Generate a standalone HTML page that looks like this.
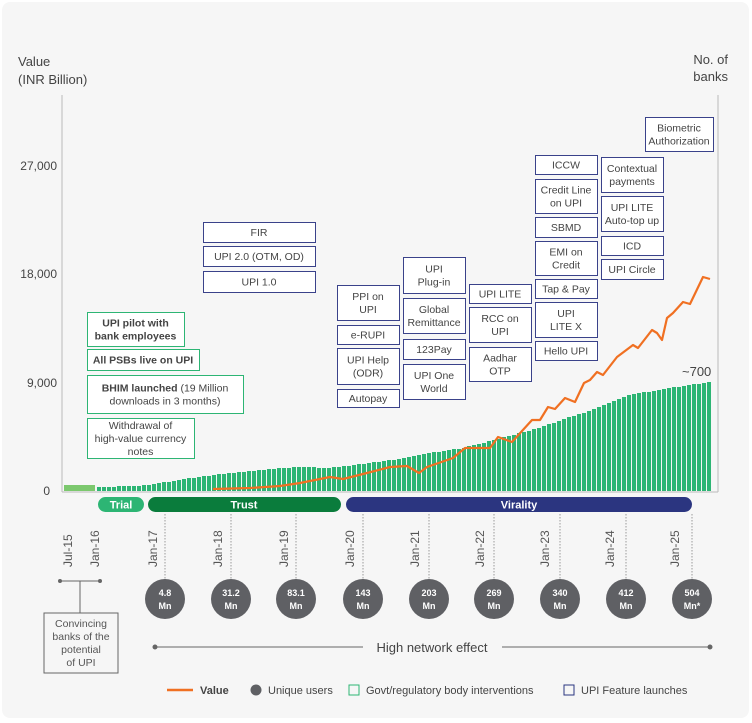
<!DOCTYPE html><html><head><meta charset="utf-8"><style>
body{margin:0;background:#fff;width:752px;height:723px;overflow:hidden}
svg{display:block;font-family:"Liberation Sans",sans-serif}
</style></head><body>
<svg id="s" width="752" height="723" viewBox="0 0 752 723">
<rect x="2" y="2" width="747" height="716" rx="8" fill="#f6f6f6"/>
<g fill="#444" font-size="13">
<text x="18" y="66">Value</text><text x="18" y="84">(INR Billion)</text>
<text x="728" y="64" text-anchor="end">No. of</text><text x="728" y="81" text-anchor="end">banks</text>
<text x="57" y="170" text-anchor="end" font-size="12">27,000</text>
<text x="57" y="278" text-anchor="end" font-size="12">18,000</text>
<text x="57" y="387" text-anchor="end" font-size="12">9,000</text>
<text x="50" y="495" text-anchor="end" font-size="12">0</text>
<text x="682" y="376" font-size="13">~700</text>
</g>
<line x1="62" y1="95" x2="62" y2="492" stroke="#bbb"/>
<line x1="718" y1="95" x2="718" y2="492" stroke="#bbb"/>
<line x1="62" y1="492" x2="718" y2="492" stroke="#bbb"/>
<rect x="64" y="485" width="31" height="6" fill="#7cc86e"/>
<g id="bars" fill="#2db574"></g>
<polyline id="ln" fill="none" stroke="#f07022" stroke-width="2.2" stroke-linejoin="round"/>
<!-- pills -->
<rect x="98" y="497" width="46" height="15" rx="7.5" fill="#2db574"/>
<rect x="148" y="497" width="193" height="15" rx="7.5" fill="#0a7c3c"/>
<rect x="346" y="497" width="346" height="15" rx="7.5" fill="#2b3580"/>
<g fill="#fff" font-size="11" font-weight="bold" text-anchor="middle">
<text x="121" y="508.5">Trial</text><text x="244" y="508.5">Trust</text><text x="519" y="508.5">Virality</text></g>
<g id="dates" fill="#555" font-size="12"></g>
<g id="circ"></g>
<!-- bracket -->
<line x1="60" y1="581" x2="100" y2="581" stroke="#666"/><circle cx="60" cy="581" r="2" fill="#666"/><circle cx="100" cy="581" r="2" fill="#666"/>
<line x1="80" y1="581" x2="80" y2="613" stroke="#666"/>
<rect x="44" y="613" width="74" height="60" fill="none" stroke="#666"/>
<g fill="#555" font-size="10.5" text-anchor="middle"><text x="81" y="627">Convincing</text><text x="81" y="640">banks of the</text><text x="81" y="653">potential</text><text x="81" y="666">of UPI</text></g>
<line x1="155" y1="647" x2="363" y2="647" stroke="#666"/><line x1="502" y1="647" x2="710" y2="647" stroke="#666"/>
<circle cx="155" cy="647" r="2.5" fill="#666"/><circle cx="710" cy="647" r="2.5" fill="#666"/>
<text x="432" y="652" text-anchor="middle" fill="#444" font-size="13">High network effect</text>
<!-- legend -->
<line x1="167" y1="690" x2="193" y2="690" stroke="#f07022" stroke-width="2.5"/>
<g fill="#444" font-size="11"><text x="200" y="694" font-weight="bold">Value</text>
<circle cx="256" cy="690" r="5.5" fill="#5f6064"/><text x="268" y="694">Unique users</text>
<rect x="349" y="685" width="10" height="10" fill="none" stroke="#2db574"/><text x="366" y="694">Govt/regulatory body interventions</text>
<rect x="564" y="685" width="10" height="10" fill="none" stroke="#2b3580"/><text x="581" y="694">UPI Feature launches</text></g>
<g id="boxes" font-size="10.5" fill="#444" text-anchor="middle"></g>
</svg>
<script>
var NS="http://www.w3.org/2000/svg";
function el(t,a,p,txt){var e=document.createElementNS(NS,t);for(var k in a)e.setAttribute(k,a[k]);if(txt!=null)e.textContent=txt;document.getElementById(p).appendChild(e);return e;}
// bars
var bp=[[97,4],[140,5],[160,8],[185,12],[213,16],[250,20],[280,23],[300,24],[330,23],[370,28],[400,32],[430,38],[463,43],[490,50],[520,58],[540,63],[563,72],[590,80],[608,88],[630,96],[663,102],[690,106],[711,109]];
function interp(p,x){for(var i=0;i<p.length-1;i++){if(x<=p[i+1][0]){var t=(x-p[i][0])/(p[i+1][0]-p[i][0]);return p[i][1]+t*(p[i+1][1]-p[i][1]);}}return p[p.length-1][1];}
for(var x=97;x<=708;x+=5){var h=interp(bp,x+2);h=Math.round(h);el("rect",{x:x,y:491-h,width:4,height:h},"bars");}
var lp=[[213,489],[250,488],[280,486],[300,483],[330,477],[343,479],[363,474],[390,467],[407,466],[419,473],[427,467],[453,458],[465,448],[490,448],[498,437],[512,442],[532,420],[540,420],[548,407],[555,409],[565,398],[575,402],[584,383],[590,380],[597,372],[603,375],[617,357],[633,345],[638,348],[652,330],[657,333],[662,340],[667,318],[673,313],[683,302],[690,304],[703,277],[710,279]];
document.getElementById("ln").setAttribute("points",lp.map(function(p){return p.join(",")}).join(" "));
var d=[["Jul-15",72],["Jan-16",99],["Jan-17",157],["Jan-18",222],["Jan-19",288],["Jan-20",354],["Jan-21",419],["Jan-22",484],["Jan-23",549],["Jan-24",614],["Jan-25",679]];
d.forEach(function(a){el("text",{x:0,y:0,transform:"translate("+a[1]+",567) rotate(-90)"},"dates",a[0]);});
var c=[[165,"4.8"],[231,"31.2"],[296,"83.1"],[363,"143"],[429,"203"],[494,"269"],[560,"340"],[626,"412"],[692,"504"]];
c.forEach(function(a){el("line",{x1:a[0],y1:514,x2:a[0],y2:580,stroke:"#999","stroke-dasharray":"1.5,1.5"},"circ");
el("circle",{cx:a[0],cy:599,r:20,fill:"#5f6064"},"circ");
el("text",{x:a[0],y:596,fill:"#fff","font-size":"9","text-anchor":"middle","font-weight":"bold"},"circ",a[1]);
el("text",{x:a[0],y:609,fill:"#fff","font-size":"9","text-anchor":"middle","font-weight":"bold"},"circ",a[0]==692?"Mn*":"Mn");});
var G="#2db574",N="#3a428a";
var bx=[
[87,312,97,34,G,["UPI pilot with","bank employees"],1],
[87,349,112,21,G,["All PSBs live on UPI"],1],
[87,375,156,38,G,["BHIM launched (19 Million","downloads in 3 months)"],1],
[87,418,107,40,G,["Withdrawal of","high-value currency","notes"]],
[203,222,112,20,N,["FIR"]],[203,246,112,20,N,["UPI 2.0 (OTM, OD)"]],[203,271,112,21,N,["UPI 1.0"]],
[337,285,62,35,N,["PPI on","UPI"]],[337,325,62,19,N,["e-RUPI"]],[337,348,62,36,N,["UPI Help","(ODR)"]],[337,389,62,18,N,["Autopay"]],
[403,257,62,36,N,["UPI","Plug-in"]],[403,298,62,35,N,["Global","Remittance"]],[403,339,62,20,N,["123Pay"]],[403,364,62,35,N,["UPI One","World"]],
[469,284,62,19,N,["UPI LITE"]],[469,307,62,35,N,["RCC on","UPI"]],[469,347,62,34,N,["Aadhar","OTP"]],
[535,155,62,19,N,["ICCW"]],[535,179,62,34,N,["Credit Line","on UPI"]],[535,217,62,20,N,["SBMD"]],[535,241,62,34,N,["EMI on","Credit"]],[535,279,62,19,N,["Tap & Pay"]],[535,302,62,35,N,["UPI","LITE X"]],[535,341,62,19,N,["Hello UPI"]],
[601,157,62,35,N,["Contextual","payments"]],[601,196,62,35,N,["UPI LITE","Auto-top up"]],[601,236,62,19,N,["ICD"]],[601,259,62,20,N,["UPI Circle"]],
[645,117,68,34,N,["Biometric","Authorization"]]];
bx.forEach(function(b){el("rect",{x:b[0]+.5,y:b[1]+.5,width:b[2],height:b[3],fill:"#fff",stroke:b[4]},"boxes");
var n=b[5].length,lh=13,y0=b[1]+b[3]/2-(n-1)*lh/2+4;
b[5].forEach(function(t,i){var e=el("text",{x:b[0]+b[2]/2,y:y0+i*lh},"boxes",t);if(b[6]&&i==0&&t.indexOf("BHIM")<0)e.setAttribute("font-weight","bold");
if(t.indexOf("BHIM")==0){e.textContent="";var s1=document.createElementNS(NS,"tspan");s1.setAttribute("font-weight","bold");s1.textContent="BHIM launched ";e.appendChild(s1);var s2=document.createElementNS(NS,"tspan");s2.textContent="(19 Million";e.appendChild(s2);}
if(b[6]&&i==1&&t=="bank employees")e.setAttribute("font-weight","bold");});});
</script>
</body></html>
